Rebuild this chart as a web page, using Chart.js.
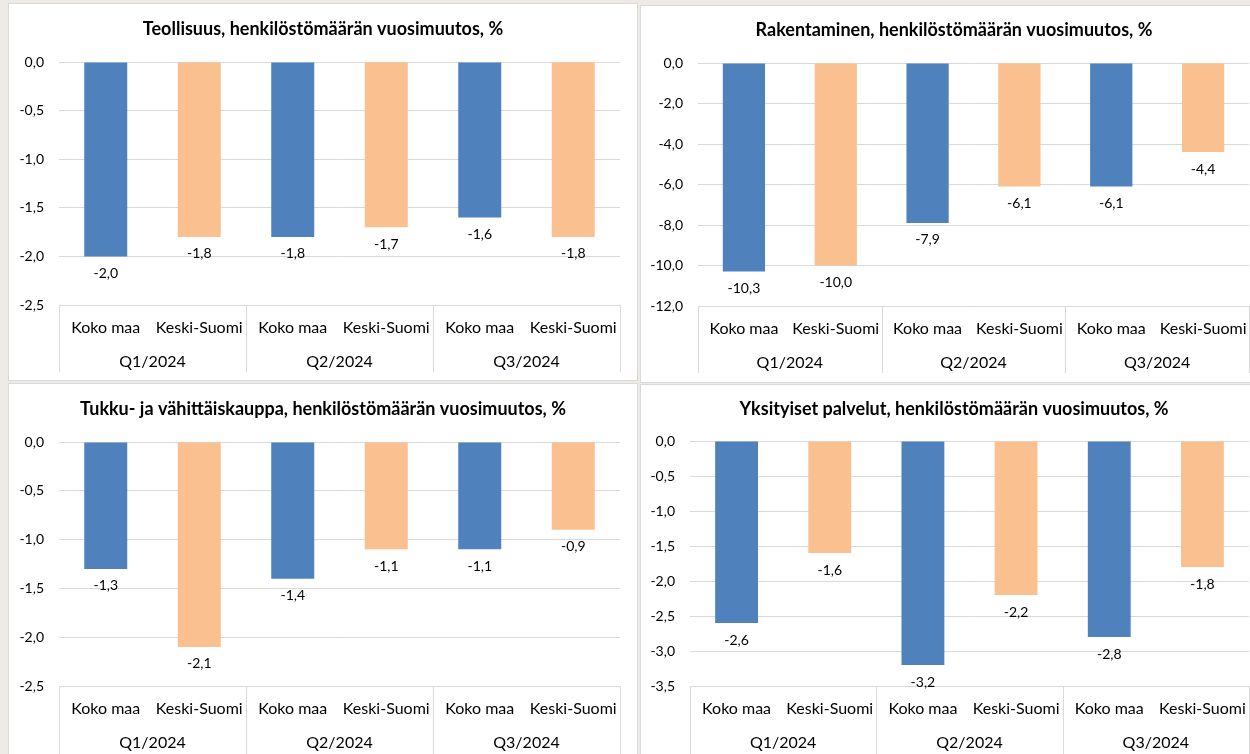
<!DOCTYPE html>
<html>
<head>
<meta charset="utf-8">
<script src="https://cdn.jsdelivr.net/npm/chart.js@4.4.1/dist/chart.umd.min.js"></script>
<style>
  body { margin: 0; background: #eeebe7; width: 1250px; height: 754px; overflow: hidden; position: relative; }
  .panel { position: absolute; background: #fff; border: 1px solid #d9d9d9; box-sizing: border-box; }
  canvas { position: absolute; }
</style>
</head>
<body>
<div class="panel" style="left:8px;top:3px;width:630px;height:378px"></div>
<div class="panel" style="left:640px;top:5px;width:628px;height:378px"></div>
<div class="panel" style="left:8px;top:383px;width:630px;height:377px"></div>
<div class="panel" style="left:640px;top:384px;width:628px;height:377px"></div>
<canvas id="c1" width="630" height="378" style="left:8px;top:3px"></canvas>
<canvas id="c2" width="628" height="378" style="left:640px;top:5px"></canvas>
<canvas id="c3" width="630" height="377" style="left:8px;top:383px"></canvas>
<canvas id="c4" width="628" height="377" style="left:640px;top:384px"></canvas>
<script>
// Data
const categories = ["Koko maa", "Keski-Suomi", "Koko maa", "Keski-Suomi", "Koko maa", "Keski-Suomi"];
const quarters = ["Q1/2024", "Q2/2024", "Q3/2024"];
const barColors = ["#4f81bd", "#fac090", "#4f81bd", "#fac090", "#4f81bd", "#fac090"];

const teollisuus = [-2.0, -1.8, -1.8, -1.7, -1.6, -1.8];
const rakentaminen = [-10.3, -10.0, -7.9, -6.1, -6.1, -4.4];
const kauppa = [-1.3, -2.1, -1.4, -1.1, -1.1, -0.9];
const palvelut = [-2.6, -1.6, -3.2, -2.2, -2.8, -1.8];

const FONT = "Lato, 'Open Sans', sans-serif";

function fmt(v) {
  return v.toFixed(1).replace(".", ",");
}

// Arvot palkkien alle
const valueLabels = {
  id: "valueLabels",
  afterDatasetsDraw(chart) {
    const ctx = chart.ctx;
    const ds = chart.data.datasets[0];
    ctx.save();
    ctx.font = "14px " + FONT;
    ctx.fillStyle = "#000";
    ctx.textAlign = "center";
    ctx.textBaseline = "middle";
    chart.getDatasetMeta(0).data.forEach((bar, i) => {
      ctx.fillText(fmt(ds.data[i]), bar.x, bar.y + 17);
    });
    ctx.restore();
  }
};

// Ryhmäotsikot ja erotinviivat x-akselin alle
const groupAxis = {
  id: "groupAxis",
  afterDraw(chart) {
    const ctx = chart.ctx;
    const a = chart.chartArea;
    const x = chart.scales.x;
    const h = chart.options.plugins.groupAxis.lineLength;
    const step = x.getPixelForValue(1) - x.getPixelForValue(0);
    ctx.save();
    ctx.strokeStyle = "#d9d9d9";
    ctx.lineWidth = 1;
    for (let g = 0; g <= quarters.length; g++) {
      const px = g < quarters.length ? x.getPixelForValue(g * 2) - step / 2 : a.right;
      const xx = Math.round(px) + 0.5;
      ctx.beginPath();
      ctx.moveTo(xx, a.bottom);
      ctx.lineTo(xx, a.bottom + h);
      ctx.stroke();
    }
    ctx.font = "16px " + FONT;
    ctx.fillStyle = "#000";
    ctx.textAlign = "center";
    ctx.textBaseline = "middle";
    quarters.forEach((q, g) => {
      const cx = (x.getPixelForValue(g * 2) + x.getPixelForValue(g * 2 + 1)) / 2;
      ctx.fillText(q, cx, a.bottom + 57);
    });
    ctx.restore();
  }
};

function makeChart(id, title, values, yMin, yStep, box) {
  const titleSize = 18, lineH = 22;
  const padTop = box.titleY - lineH / 2;
  const padBottom = box.plotTop - padTop - lineH;
  return new Chart(document.getElementById(id), {
    type: "bar",
    data: {
      labels: categories,
      datasets: [{
        data: values,
        backgroundColor: barColors,
        borderWidth: 0,
        barPercentage: 0.46,
        categoryPercentage: 1
      }]
    },
    options: {
      responsive: false,
      animation: false,
      layout: { padding: 0 },
      plugins: {
        legend: { display: false },
        tooltip: { enabled: false },
        title: {
          display: true,
          text: title,
          color: "#000",
          font: { family: FONT, size: titleSize, weight: "bold", lineHeight: lineH / titleSize },
          padding: { top: padTop, bottom: padBottom }
        },
        groupAxis: { lineLength: box.lineLen }
      },
      scales: {
        x: {
          grid: { display: false },
          border: { display: false },
          ticks: { color: "#000", font: { family: FONT, size: 16 }, padding: 5, maxRotation: 0, autoSkip: false },
          afterFit: s => { s.height = box.xHeight; }
        },
        y: {
          min: yMin,
          max: 0,
          ticks: { stepSize: yStep, color: "#000", font: { family: FONT, size: 14 }, padding: 15, callback: v => fmt(v) },
          grid: { color: "#d9d9d9", lineWidth: 1, drawTicks: false },
          border: { display: false },
          afterFit: s => { s.width = box.yWidth; }
        },
        // tyhjä akseli oikealle, jotta otsikko pysyy keskellä
        yRight: {
          position: "right",
          display: true,
          grid: { display: false },
          border: { display: false },
          ticks: { display: false },
          afterFit: s => { s.width = box.right; }
        }
      }
    },
    plugins: [valueLabels, groupAxis]
  });
}

makeChart("c1", "Teollisuus, henkilöstömäärän vuosimuutos, %", teollisuus, -2.5, 0.5,
  { right: 18, yWidth: 51, titleY: 26, plotTop: 59, xHeight: 76, lineLen: 67 });
makeChart("c2", "Rakentaminen, henkilöstömäärän vuosimuutos, %", rakentaminen, -12, 2,
  { right: 19, yWidth: 58, titleY: 25, plotTop: 58, xHeight: 77, lineLen: 67 });
makeChart("c3", "Tukku- ja vähittäiskauppa, henkilöstömäärän vuosimuutos, %", kauppa, -2.5, 0.5,
  { right: 18, yWidth: 51, titleY: 26, plotTop: 59, xHeight: 74, lineLen: 70 });
makeChart("c4", "Yksityiset palvelut, henkilöstömäärän vuosimuutos, %", palvelut, -3.5, 0.5,
  { right: 19, yWidth: 50, titleY: 25, plotTop: 57, xHeight: 75, lineLen: 70 });
</script>
</body>
</html>
